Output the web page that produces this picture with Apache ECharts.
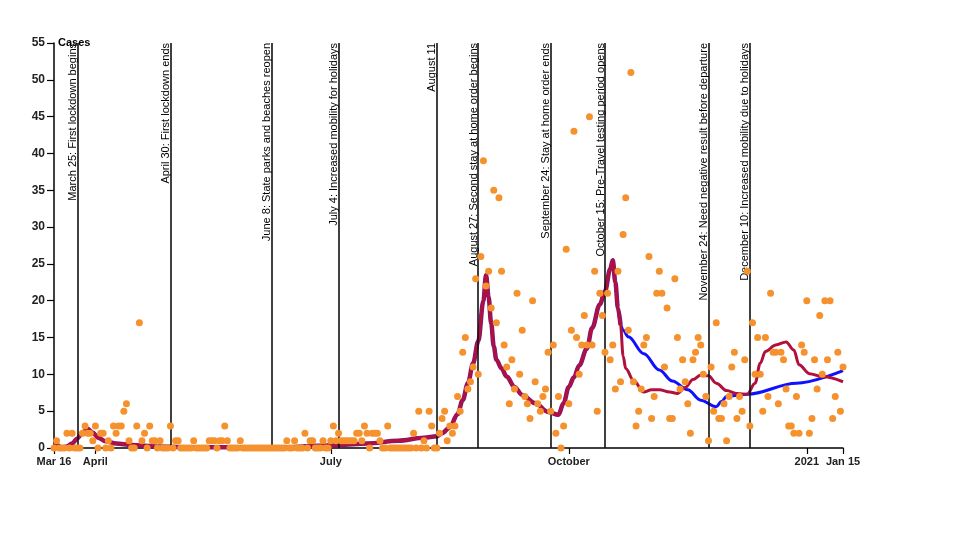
<!DOCTYPE html>
<html>
<head>
<meta charset="utf-8">
<script src="https://cdn.jsdelivr.net/npm/echarts@6/dist/echarts.min.js"></script>
<style>
  html, body { margin: 0; padding: 0; background: #fff; }
  #chart { width: 960px; height: 540px; }
</style>
</head>
<body>
<div id="chart"></div>
<script>
// daily new cases, one list per month
const casesMar = [0,1,0,0,0,2,0,2,0,0,0,2,3,2,2,1]; // from Mar 16
const casesApr = [3,0,2,2,0,1,0,3,2,3, 3,5,6,1,0,0,3,17,1,2, 0,3,1,1,0,1,0,0,0,3];
const casesMay = [0,1,1,0,0,0,0,0,1,0, 0,0,0,0,1,1,1,0,1,1, 3,1,0,0,0,0,1,0,0,0, 0];
const casesJun = [0,0,0,0,0,0,0,0,0,0, 0,0,0,1,0,0,1,0,0,0, 2,0,1,1,0,0,0,1,0,0];
const casesJul = [1,3,1,2,1,1,1,1,1,1, 2,2,1,3,2,0,2,2,2,1, 0,0,3,0,0,0,0,0,0,0, 0];
const casesAug = [0,2,0,5,0,1,0,5,3,0, 0,2,4,5,1,3,2,3,7,5, 13,15,8,9,11,23,10,26,39,22, 24];
const casesSep = [19,35,17,34,24,14,11,6,12,8, 21,10,16,7,6,4,20,9,6,5, 7,8,13,5,14,2,7,0,3,27];
const casesOct = [6,16,43,15,10,14,18,14,45,14, 24,5,21,18,13,21,12,14,8,24, 9,29,34,16,51,9,3,5,8,14, 15];
const casesNov = [26,4,7,21,24,21,11,19,4,4, 23,15,8,12,9,6,2,12,13,15, 14,10,7,1,11,5,17,4,4,6];
const casesDec = [1,7,11,13,4,7,5,12,24,3, 17,10,15,10,5,15,7,21,13,13, 6,13,12,8,3,3,2,7,2,14, 13];
const casesJan = [20,2,4,12,8,18,10,20,12,20, 4,7,13,5,11];

// smoothed curve, common part of both fits
const sharedDates = ['2020-03-16','2020-03-17','2020-03-19','2020-03-21','2020-03-23','2020-03-25','2020-03-27','2020-03-29','2020-03-31',
  '2020-04-02','2020-04-05','2020-04-09','2020-04-15','2020-04-25','2020-05-10','2020-06-15','2020-06-25','2020-07-04','2020-07-15',
  '2020-07-27','2020-08-06','2020-08-11','2020-08-13','2020-08-16','2020-08-19','2020-08-21','2020-08-23','2020-08-25','2020-08-27',
  '2020-08-29','2020-08-30','2020-08-31','2020-09-01','2020-09-02','2020-09-03','2020-09-05','2020-09-07','2020-09-10','2020-09-13',
  '2020-09-18','2020-09-23','2020-09-27','2020-09-29','2020-10-01','2020-10-03','2020-10-05','2020-10-08','2020-10-10','2020-10-13',
  '2020-10-15','2020-10-17','2020-10-18','2020-10-19','2020-10-20','2020-10-21'];
const sharedValues = [0.3,0.4,0.1,0.2,0.6,1.3,2.1,2.6,2.1,
  1.4,0.9,0.6,0.4,0.2,0.1,0.1,0.3,0.4,0.6,
  1.0,1.4,1.6,2.0,2.8,4.6,6.5,8.8,11.5,14.5,
  20.0,23.5,20.5,16.9,13.8,12.0,10.8,9.7,8.3,7.2,
  6.1,4.9,4.5,6.1,8.3,9.6,11.2,13.5,16.3,19.5,
  21.3,24.3,25.5,22.5,19.0,16.7];

// red fit after the October peak
const redDates = ['2020-10-22','2020-10-23','2020-10-26','2020-10-30','2020-11-02','2020-11-05','2020-11-09','2020-11-12','2020-11-15',
  '2020-11-18','2020-11-21','2020-11-24','2020-11-27','2020-12-01','2020-12-05','2020-12-09','2020-12-12','2020-12-14','2020-12-16',
  '2020-12-20','2020-12-24','2020-12-27','2020-12-29','2021-01-02','2021-01-07','2021-01-15'];
const redValues = [12.5,10.8,9.2,7.6,7.9,7.9,7.6,7.4,8.2,
  9.3,9.9,9.8,8.8,7.8,7.4,7.3,8.8,11.5,13.1,
  14.0,14.4,13.3,11.3,10.1,9.7,9.0];

// blue fit after the October peak
const blueDates = ['2020-10-22','2020-10-24','2020-10-30','2020-11-05','2020-11-10','2020-11-16','2020-11-21','2020-11-27',
  '2020-11-29','2020-12-01','2020-12-09','2020-12-28','2021-01-15'];
const blueValues = [16.0,15.1,12.8,10.6,9.1,7.9,6.5,5.6,6.3,7.0,7.3,8.8,10.5];

// events
const eventDates = ['2020-03-25','2020-04-30','2020-06-08','2020-07-04','2020-08-11','2020-08-27','2020-09-24','2020-10-15','2020-11-24','2020-12-10'];
const eventLabels = ['March 25: First lockdown begins','April 30: First lockdown ends','June 8: State parks and beaches reopen',
  'July 4: Increased mobility for holidays','August 11','August 27: Second stay at home order begins',
  'September 24: Stay at home order ends','October 15: Pre-Travel testing period opens',
  'November 24: Need negative result before departure','December 10: Increased mobility due to holidays'];

// x ticks
const tickDates = ['2020-03-16','2020-04-01','2020-07-01','2020-10-01','2021-01-01','2021-01-15'];
const tickLabels = ['Mar 16','April','July','October','2021','Jan 15'];

function toTime(s) {
  const p = s.split('-');
  return new Date(+p[0], +p[1] - 1, +p[2]).getTime();
}

const monthStarts = [[2020,2,16,casesMar],[2020,3,1,casesApr],[2020,4,1,casesMay],[2020,5,1,casesJun],[2020,6,1,casesJul],
  [2020,7,1,casesAug],[2020,8,1,casesSep],[2020,9,1,casesOct],[2020,10,1,casesNov],[2020,11,1,casesDec],[2021,0,1,casesJan]];
const scatterData = [];
monthStarts.forEach(m => {
  m[3].forEach((v, i) => scatterData.push([new Date(m[0], m[1], m[2] + i).getTime(), v]));
});

const sharedData = sharedDates.map((d, i) => [toTime(d), sharedValues[i]]);
const redData = sharedData.concat(redDates.map((d, i) => [toTime(d), redValues[i]]));
const blueData = sharedData.concat(blueDates.map((d, i) => [toTime(d), blueValues[i]]));
const tickTimes = tickDates.map(toTime);

const font = 'Liberation Sans, Arial, sans-serif';
const smoothing = 0.35;

const chart = echarts.init(document.getElementById('chart'));
const option = {
  animation: false,
  backgroundColor: '#fff',
  grid: { left: 54, right: 117, top: 43, bottom: 92 },
  xAxis: {
    // dates as timestamps on a value axis so the ticks can be placed by hand
    type: 'value',
    min: toTime('2020-03-16'),
    max: toTime('2021-01-15'),
    axisLine: { lineStyle: { color: '#000', width: 1.5 } },
    axisTick: { show: true, length: 6, customValues: tickTimes, lineStyle: { color: '#000', width: 1.2 } },
    axisLabel: {
      customValues: tickTimes,
      hideOverlap: false,
      color: '#222',
      fontSize: 11,
      fontWeight: 'bold',
      fontFamily: font,
      margin: 8,
      formatter: function (value) {
        const i = tickTimes.indexOf(value);
        return i >= 0 ? tickLabels[i] : '';
      }
    },
    splitLine: { show: false }
  },
  yAxis: {
    type: 'value',
    min: 0,
    max: 55,
    interval: 5,
    name: 'Cases',
    nameLocation: 'end',
    nameGap: 0,
    nameTextStyle: { align: 'left', verticalAlign: 'middle', fontWeight: 'bold', fontSize: 11, color: '#000', fontFamily: font, padding: [0, 0, 0, 4] },
    axisLine: { show: true, lineStyle: { color: '#000', width: 1.5 } },
    axisTick: { show: true, length: 7, lineStyle: { color: '#000', width: 1.2 } },
    axisLabel: { color: '#222', fontSize: 12, fontWeight: 'bold', fontFamily: font, margin: 9 },
    splitLine: { show: false }
  },
  series: [
    {
      name: 'model',
      type: 'line',
      data: blueData,
      showSymbol: false,
      smooth: smoothing,
      smoothMonotone: 'x',
      lineStyle: { color: '#1010ff', width: 3 },
      z: 2
    },
    {
      // purple edge where both fits coincide
      name: 'overlap',
      type: 'line',
      data: sharedData,
      showSymbol: false,
      smooth: smoothing,
      smoothMonotone: 'x',
      lineStyle: { color: '#7d1685', width: 4.5 },
      z: 3
    },
    {
      name: 'smoothed',
      type: 'line',
      data: redData,
      showSymbol: false,
      smooth: smoothing,
      smoothMonotone: 'x',
      lineStyle: { color: '#b0103c', width: 3 },
      z: 4
    },
    {
      name: 'Cases',
      type: 'scatter',
      data: scatterData,
      symbolSize: 7,
      itemStyle: { color: '#f5922e', opacity: 1 },
      z: 5
    },
    {
      name: 'events',
      type: 'line',
      data: [],
      z: 6,
      markLine: {
        silent: true,
        symbol: 'none',
        animation: false,
        lineStyle: { color: '#111', width: 1.6, type: 'solid' },
        label: {
          show: true,
          position: 'insideEndTop',
          formatter: '{b}',
          color: '#000',
          fontSize: 11,
          fontFamily: font,
          distance: [0, -1]
        },
        data: eventDates.map((d, i) => ({ xAxis: toTime(d), name: eventLabels[i] }))
      }
    }
  ]
};
chart.setOption(option);
</script>
</body>
</html>
